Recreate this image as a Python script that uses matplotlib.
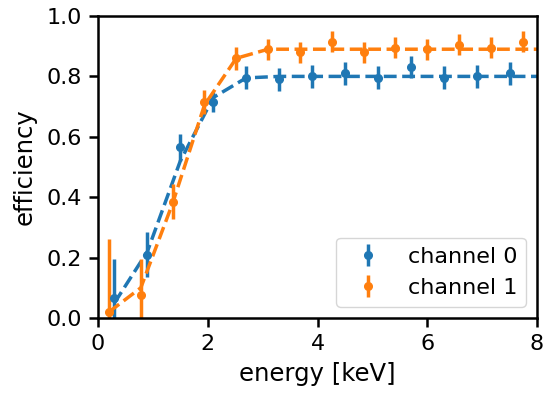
import numpy as np
import matplotlib.pyplot as plt

# measured efficiencies
x0 = [0.3, 0.9, 1.5, 2.1, 2.7, 3.3, 3.9, 4.5, 5.1, 5.7, 6.3, 6.9, 7.5]
y0 = [0.066, 0.21, 0.565, 0.715, 0.795, 0.79, 0.80, 0.81, 0.795, 0.83, 0.795, 0.80, 0.81]
e0 = [0.13, 0.075, 0.045, 0.033, 0.038, 0.038, 0.038, 0.038, 0.038, 0.036, 0.038, 0.038, 0.038]

x1 = [0.2, 0.78, 1.36, 1.94, 2.52, 3.1, 3.68, 4.26, 4.84, 5.42, 6.0, 6.58, 7.16, 7.74]
y1 = [0.02, 0.077, 0.385, 0.715, 0.86, 0.89, 0.88, 0.915, 0.88, 0.895, 0.89, 0.905, 0.895, 0.915]
e1 = [0.24, 0.12, 0.058, 0.04, 0.038, 0.035, 0.035, 0.035, 0.035, 0.035, 0.035, 0.035, 0.035, 0.035]

# fitted curves
fx0 = [0.3, 0.9, 1.5, 2.1, 2.7, 3.3, 8.0]
fy0 = [0.05, 0.22, 0.52, 0.73, 0.795, 0.80, 0.80]
fx1 = [0.2, 0.78, 1.36, 1.94, 2.52, 3.1, 8.0]
fy1 = [0.02, 0.10, 0.38, 0.705, 0.86, 0.89, 0.89]

plt.rcParams['axes.linewidth'] = 1.8
plt.rcParams['xtick.major.width'] = 1.8
plt.rcParams['ytick.major.width'] = 1.8
plt.rcParams['xtick.major.size'] = 6.5
plt.rcParams['ytick.major.size'] = 6.5
plt.rcParams['xtick.major.pad'] = 5
plt.rcParams['ytick.major.pad'] = 5

fig = plt.figure(figsize=(5.48, 3.93), dpi=100)
ax = fig.add_axes([0.1788, 0.1908, 0.8012, 0.7685])

ax.errorbar(x0, y0, yerr=e0, fmt='o', color='C0', ms=5.5, elinewidth=2.5, label='channel 0')
ax.plot(fx0, fy0, '--', color='C0', lw=2.5)
ax.errorbar(x1, y1, yerr=e1, fmt='o', color='C1', ms=5.5, elinewidth=2.5, label='channel 1')
ax.plot(fx1, fy1, '--', color='C1', lw=2.5)

ax.set_xlim(0, 8)
ax.set_ylim(0, 1)
ax.set_xticks([0, 2, 4, 6, 8])
ax.set_yticks([0, 0.2, 0.4, 0.6, 0.8, 1.0])
ax.tick_params(labelsize=16)
ax.set_xlabel('energy [keV]', fontsize=17.5, labelpad=6)
ax.set_ylabel('efficiency', fontsize=17.5, labelpad=7)
ax.legend(loc='lower right', fontsize=16)

fig.savefig('out.png', dpi=100)
